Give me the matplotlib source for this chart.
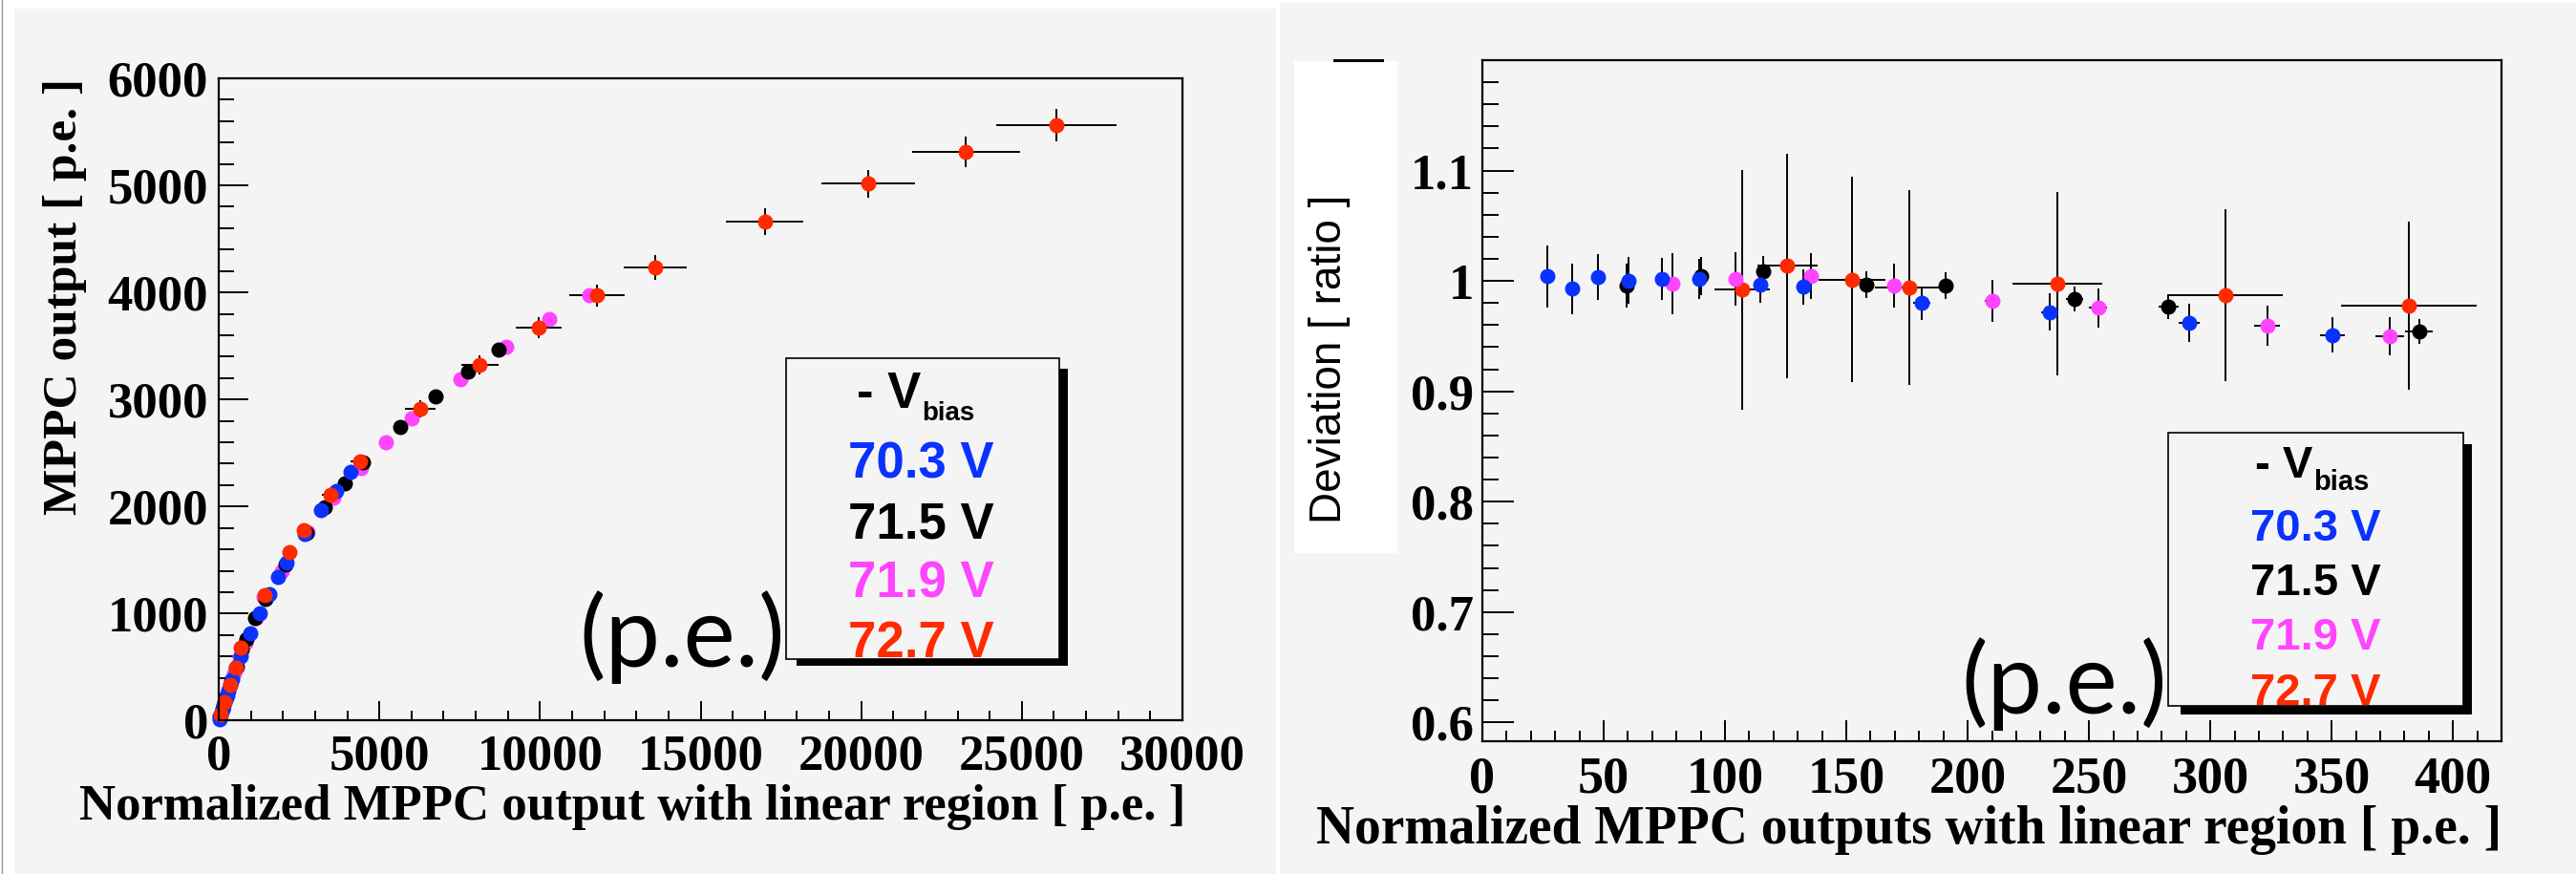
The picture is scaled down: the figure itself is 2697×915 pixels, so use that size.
import matplotlib
matplotlib.use('Agg')
import matplotlib.pyplot as plt
from matplotlib.patches import Rectangle
from matplotlib.lines import Line2D
from matplotlib.ticker import MultipleLocator, FixedLocator, FuncFormatter

# ---- left panel data: MPPC output vs normalized output (p.e.) ----
blue_x = [15, 60, 110, 160, 210, 260, 310, 370, 430, 526, 693, 972, 1269, 1566, 1843, 2111, 2686, 3181, 3647, 4093]
blue_y = [15, 58, 103, 148, 193, 238, 283, 335, 390, 494, 604, 818, 1005, 1184, 1341, 1478, 1740, 1963, 2147, 2320]

black_x = [40, 120, 250, 400, 560, 723, 871, 1130, 1466, 2081, 2726, 3309, 3924, 4489, 5659, 6749, 7760, 8701]
black_y = [38, 112, 230, 365, 505, 664, 759, 955, 1139, 1460, 1749, 1995, 2215, 2409, 2744, 3027, 3265, 3467]

mag_x = [50, 150, 300, 480, 650, 823, 1168, 1400, 1962, 2775, 3568, 4420, 5213, 5996, 7512, 8949, 10287, 11545]
mag_y = [48, 140, 280, 440, 590, 723, 961, 1155, 1392, 1763, 2085, 2358, 2602, 2819, 3190, 3497, 3749, 3975]

red_x = [60, 180, 360, 540, 675, 1418, 2210, 2656, 3469, 4391, 6273, 8126, 9959, 11773, 13577, 16997, 20225, 23261, 26065]
red_y = [58, 170, 335, 490, 679, 1169, 1571, 1778, 2106, 2418, 2914, 3324, 3672, 3970, 4231, 4662, 5016, 5313, 5563]
red_xerr = [4, 13, 26, 39, 49, 102, 160, 191, 250, 300, 467, 580, 718, 852, 981, 1214, 1462, 1673, 1875]
red_yerr = [2, 5, 9, 13, 18, 32, 42, 48, 57, 65, 79, 89, 100, 107, 116, 125, 131, 141, 149]

# ---- right panel data: deviation ratio ----
r_blue_x = [26.7, 37.1, 47.7, 60.3, 73.9, 89.5, 114.4, 132.1, 181.1, 233.9, 291.3, 350.2]
r_blue_y = [1.004, 0.993, 1.0035, 1.0005, 1.002, 1.002, 0.997, 0.9945, 0.980, 0.9717, 0.962, 0.9508]
r_blue_xerr = [0.5, 0.7, 0.9, 1.1, 1.4, 1.7, 2.2, 2.5, 3.4, 3.5, 4.2, 5.1]
r_blue_yerr = [0.028, 0.023, 0.021, 0.021, 0.019, 0.018, 0.017, 0.016, 0.015, 0.017, 0.017, 0.016]

r_black_x = [59.6, 90.2, 115.7, 158.4, 190.8, 244.2, 282.7, 386.0]
r_black_y = [0.9955, 1.0045, 1.0086, 0.9968, 0.9957, 0.9838, 0.9766, 0.9544]
r_black_xerr = [0.9, 1.3, 1.7, 2.3, 2.8, 3.5, 4.1, 5.6]
r_black_yerr = [0.020, 0.017, 0.014, 0.012, 0.012, 0.011, 0.011, 0.011]

r_mag_x = [78.3, 104.5, 135.5, 169.5, 210.3, 253.8, 323.5, 373.9]
r_mag_y = [0.9975, 1.002, 1.0045, 0.996, 0.9818, 0.9756, 0.9594, 0.950]
r_mag_xerr = [1.1, 1.5, 2.0, 2.5, 3.1, 3.7, 5.3, 6.0]
r_mag_yerr = [0.028, 0.024, 0.021, 0.020, 0.019, 0.018, 0.018, 0.017]

r_red_x = [106.9, 125.6, 152.5, 176.1, 236.8, 306.4, 381.8]
r_red_y = [0.9919, 1.0136, 1.0013, 0.994, 0.9975, 0.987, 0.9776]
r_red_xerr = [11.4, 12.4, 13.8, 14.5, 18.5, 23.5, 28.0]
r_red_yerr = [0.109, 0.102, 0.093, 0.088, 0.083, 0.078, 0.076]

bias_labels = ['70.3 V', '71.5 V', '71.9 V', '72.7 V']
colors = ['#0a32ff', '#000000', '#ff45ff', '#ff2a00']

BG = '#f4f4f4'
W, H = 2697, 915
MS = 11.5

def fx(x):
    return x / W

def fy(y):
    return 1 - y / H

plt.rcParams['font.family'] = 'Liberation Serif'
plt.rcParams['font.weight'] = 'bold'

fig = plt.figure(figsize=(W / 100, H / 100), dpi=100, facecolor='white')

# panel backgrounds
fig.add_artist(Rectangle((fx(15), 0), fx(1336) - fx(15), fy(9), transform=fig.transFigure,
                         facecolor=BG, edgecolor='none', zorder=-10))
fig.add_artist(Rectangle((fx(1340), 0), 1 - fx(1340), fy(3), transform=fig.transFigure,
                         facecolor=BG, edgecolor='none', zorder=-10))
fig.add_artist(Line2D([fx(1.5), fx(1.5)], [0, 1], transform=fig.transFigure, color='#999999', lw=1))


def draw_err(ax, x, y, xe, ye, c, cap=3):
    cont = ax.errorbar(x, y, xerr=xe, yerr=ye, fmt='o', color=c, ecolor='black',
                       elinewidth=1.4, capsize=cap, capthick=1.4, markersize=MS,
                       markeredgewidth=0)
    for art in cont.get_children():
        art.set_clip_on(False)


def style_axes(ax):
    ax.set_facecolor(BG)
    for s in ax.spines.values():
        s.set_linewidth(1.6)
        s.set_color('black')


# ---------------- left panel ----------------
ax1 = fig.add_axes([fx(229), fy(754.4), fx(1238) - fx(229), fy(82) - fy(754.4)])
style_axes(ax1)
draw_err(ax1, red_x, red_y, red_xerr, red_yerr, colors[3])
ax1.plot(mag_x, mag_y, 'o', color=colors[2], ms=MS, mew=0, clip_on=False)
ax1.plot(black_x, black_y, 'o', color=colors[1], ms=MS, mew=0, clip_on=False)
ax1.plot(blue_x, blue_y, 'o', color=colors[0], ms=MS, mew=0, clip_on=False)
ax1.set_xlim(0, 30000)
ax1.set_ylim(0, 6000)
ax1.xaxis.set_major_locator(MultipleLocator(5000))
ax1.xaxis.set_minor_locator(MultipleLocator(1000))
ax1.yaxis.set_major_locator(MultipleLocator(1000))
ax1.yaxis.set_minor_locator(MultipleLocator(200))
ax1.xaxis.set_major_formatter(FuncFormatter(lambda v, p: f'{v:.0f}'))
ax1.yaxis.set_major_formatter(FuncFormatter(lambda v, p: f'{v:.0f}'))
ax1.tick_params(axis='y', which='major', direction='in', length=22, width=1.4, pad=8,
                left=True, right=False, labelsize=38)
ax1.tick_params(axis='y', which='minor', direction='in', length=11.5, width=1.4, left=True, right=False)
ax1.tick_params(axis='x', which='major', direction='in', length=14.4, width=1.4, pad=10,
                bottom=True, top=False, labelsize=38)
ax1.tick_params(axis='x', which='minor', direction='in', length=7.2, width=1.4, bottom=True, top=False)

fig.text(fx(1241), fy(858), 'Normalized MPPC output with linear region [ p.e. ]',
         ha='right', va='baseline', fontsize=38, fontweight='bold')
fig.text(fx(68), fy(82), 'MPPC output [ p.e. ]', rotation=90, ha='center', va='top',
         fontsize=37, fontweight='bold')

# ---------------- right panel ----------------
ax2 = fig.add_axes([fx(1552), fy(776), fx(2619) - fx(1552), fy(63) - fy(776)])
style_axes(ax2)
draw_err(ax2, r_red_x, r_red_y, r_red_xerr, r_red_yerr, colors[3], cap=3.8)
draw_err(ax2, r_mag_x, r_mag_y, r_mag_xerr, r_mag_yerr, colors[2], cap=3.8)
draw_err(ax2, r_black_x, r_black_y, r_black_xerr, r_black_yerr, colors[1], cap=3.8)
draw_err(ax2, r_blue_x, r_blue_y, r_blue_xerr, r_blue_yerr, colors[0], cap=3.8)
ax2.set_xlim(0, 420)
ax2.set_ylim(0.583, 1.2)
ax2.xaxis.set_major_locator(MultipleLocator(50))
ax2.xaxis.set_minor_locator(MultipleLocator(10))
ax2.yaxis.set_major_locator(FixedLocator([0.6, 0.7, 0.8, 0.9, 1.0, 1.1]))
ax2.yaxis.set_minor_locator(MultipleLocator(0.02))
ax2.xaxis.set_major_formatter(FuncFormatter(lambda v, p: f'{v:.0f}'))
ax2.yaxis.set_major_formatter(FuncFormatter(lambda v, p: '1' if abs(v - 1) < 1e-6 else f'{v:.1f}'))
ax2.tick_params(axis='y', which='major', direction='in', length=23.8, width=1.4, pad=6.5,
                left=True, right=False, labelsize=38)
ax2.tick_params(axis='y', which='minor', direction='in', length=12, width=1.4, left=True, right=False)
ax2.tick_params(axis='x', which='major', direction='in', length=15.8, width=1.4, pad=11.5,
                bottom=True, top=False, labelsize=39)
ax2.tick_params(axis='x', which='minor', direction='in', length=8, width=1.4, bottom=True, top=False)

fig.text(fx(2619), fy(883), 'Normalized MPPC outputs with linear region [ p.e. ]',
         ha='right', va='baseline', fontsize=40, fontweight='bold')

# white box behind the y title, with the small bar on top
fig.add_artist(Rectangle((fx(1355), fy(579)), fx(1463) - fx(1355), fy(64) - fy(579),
                         transform=fig.transFigure, facecolor='white', edgecolor='none', zorder=3))
fig.add_artist(Line2D([fx(1397), fx(1447)], [fy(63), fy(63)], transform=fig.transFigure,
                      color='black', lw=2.2, zorder=4))
fig.text(fx(1392), fy(204), 'Deviation [ ratio ]', rotation=90, ha='center', va='top',
         fontsize=33, fontweight='normal', family='Liberation Sans', zorder=5)


# ---------------- legend boxes ----------------
def legend_box(x0, y0, x1, y1, sx0, sy0, sx1, sy1, xc, xv, base_v, base_b, bases, fs, fs_sub):
    fig.add_artist(Rectangle((fx(sx0), fy(sy1)), fx(sx1) - fx(sx0), fy(sy0) - fy(sy1),
                             transform=fig.transFigure, facecolor='black', edgecolor='none', zorder=5))
    box = Rectangle((fx(x0), fy(y1)), fx(x1) - fx(x0), fy(y0) - fy(y1),
                    transform=fig.transFigure, facecolor=BG, edgecolor='black', lw=1.2, zorder=6)
    fig.add_artist(box)
    fig.text(fx(xv), fy(base_v), '- V', ha='right', va='baseline', fontsize=fs,
             fontweight='bold', family='Liberation Sans', zorder=7)
    fig.text(fx(xv + 1), fy(base_b), 'bias', ha='left', va='baseline', fontsize=fs_sub,
             fontweight='bold', family='Liberation Sans', zorder=7)
    for lab, c, b in zip(bias_labels, colors, bases):
        t = fig.text(fx(xc), fy(b), lab, ha='center', va='baseline', fontsize=fs,
                     fontweight='bold', family='Liberation Sans', color=c, zorder=7)
        t.set_clip_path(box)


legend_box(823, 375, 1109, 690, 834, 386, 1118, 697, 964, 964, 427, 440,
           [501, 563, 625, 688], 38, 20)
legend_box(2270, 453, 2579, 739, 2283, 465, 2588, 748, 2424, 2421, 500, 513,
           [566, 623, 680, 738], 34, 21)

# big "(p.e.)" annotations
fig.text(fx(714), fy(667), '(p.e.)', ha='center', va='center', fontsize=74,
         fontweight='normal', family='Lato', zorder=8)
fig.text(fx(2161), fy(716), '(p.e.)', ha='center', va='center', fontsize=74,
         fontweight='normal', family='Lato', zorder=8)

fig.savefig('out.png', dpi=100, facecolor='white')
